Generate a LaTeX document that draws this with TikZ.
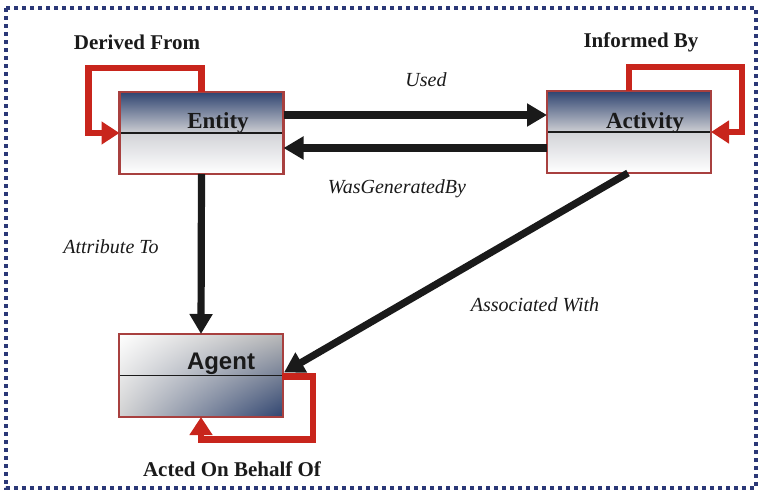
\documentclass[tikz,border=0pt]{standalone}
\usepackage{fontspec}
\setmainfont{Liberation Serif}
\setsansfont{Liberation Sans}
\usetikzlibrary{arrows.meta,calc,shadings}

\definecolor{navy}{HTML}{2F4470}
\definecolor{boxred}{HTML}{A8403F}
\definecolor{looprd}{HTML}{C8251C}
\definecolor{ink}{HTML}{1A1A1A}
\definecolor{frame}{HTML}{2B3877}
\definecolor{pale}{HTML}{CDCED3}

\tikzset{
  classbox/.style={rectangle, minimum width=164pt, minimum height=82pt,
    inner sep=0pt, outer sep=0pt},
  boxedge/.style={draw=boxred, line width=2.2pt},
  divider/.style={draw=ink, line width=1.8pt},
  boxname/.style={font=\fontsize{23}{23}\selectfont\bfseries, text=ink, anchor=base},
  relname/.style={font=\fontsize{20}{20}\selectfont\itshape, text=ink},
  loopname/.style={font=\fontsize{21}{21}\selectfont\bfseries, text=ink},
  relarrow/.style={draw=ink, line width=7.2pt,
    -{Triangle[length=20pt,width=22pt]}},
  selfloop/.style={draw=looprd, line width=6.8pt, miter limit=10,
    -{Triangle[length=18pt,width=22pt]}},
}

\begin{document}
\begin{tikzpicture}[x=1pt,y=-1pt]
  \useasboundingbox (0,0) rectangle (760,493);

  % dotted frame
  \draw[frame, line width=3.6pt, dash pattern=on 3.6pt off 4.4pt] (6,8) rectangle (756,488);

  % classes
  \node[classbox] (E) at (201.5,133) {};
  \node[classbox] (A) at (629,132) {};
  \node[classbox, minimum height=83pt] (G) at (201,375.5) {};

  % Entity fill
  \shade[top color=navy, bottom color=pale] (E.north west) rectangle (E.east);
  \shade[top color=pale!90, bottom color=white] (E.west) rectangle (E.south east);
  \draw[divider] (E.west) -- (E.east);
  \draw[boxedge] (E.north west) rectangle (E.south east);
  \node[boxname] (Et) at (218,128) {Entity};

  % Activity fill
  \shade[top color=navy, bottom color=pale] (A.north west) rectangle (A.east);
  \shade[top color=pale!90, bottom color=white] (A.west) rectangle (A.south east);
  \draw[divider] (A.west) -- (A.east);
  \draw[boxedge] (A.north west) rectangle (A.south east);
  \node[boxname] (At) at (645,128) {Activity};

  % Agent fill
  \shade[upper left=white, upper right=gray!55, lower left=gray!35, lower right=navy]
    (G.north west) rectangle (G.south east);
  \draw[divider] (G.west) -- (G.east);
  \draw[boxedge] (G.north west) rectangle (G.south east);
  \node[boxname, font=\fontsize{24}{24}\selectfont\sffamily\bfseries] (Gt) at (221,369) {Agent};

  % relations
  \draw[relarrow] ($(E.east)+(0,-18)$) -- ($(A.west)+(0,-17)$);
  \draw[relarrow] ($(A.west)+(0,16)$) -- ($(E.east)+(0,15)$);
  \draw[relarrow] (E.south) -- (G.north);
  \draw[relarrow] ($(A.south)+(-1,0)$) -- ($(G.east)+(1,-3)$);

  % self loops
  \draw[selfloop] (E.north) -- ++(0,-24) -| ($(E.west)+(-31,0)$) -- (E.west);
  \draw[selfloop] (A.north) -- ++(0,-24) -| ($(A.east)+(31,0)$) -- (A.east);
  \draw[selfloop] ($(G.east)+(-1,1)$) -- ++(31,0) -- ++(0,63) -| (G.south);

  % labels
  \node[loopname] (lDF) at (137,42) {Derived From};
  \node[loopname] (lIB) at (641,42) {Informed By};
  \node[loopname] (lAB) at (232,469) {Acted On Behalf Of};
  \node[relname] (lU) at (426,80) {Used};
  \node[relname] (lW) at (397,189) {WasGeneratedBy};
  \node[relname] (lAT) at (111,247) {Attribute To};
  \node[relname] (lAW) at (535,305) {Associated With};
\end{tikzpicture}
\end{document}
